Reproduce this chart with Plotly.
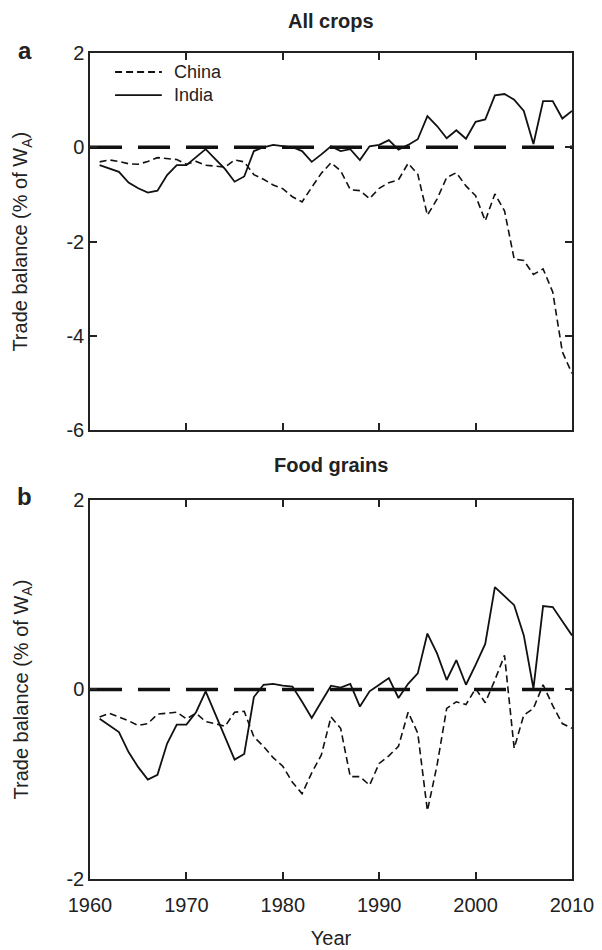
import plotly.graph_objects as go
from plotly.subplots import make_subplots

years = list(range(1961, 2011))

china_all = [-0.31, -0.27, -0.30, -0.35, -0.36, -0.30, -0.22, -0.24, -0.26, -0.36,
             -0.30, -0.38, -0.40, -0.42, -0.27, -0.31, -0.58, -0.68, -0.80, -0.88,
             -1.05, -1.16, -0.85, -0.55, -0.33, -0.50, -0.90, -0.92, -1.09, -0.87,
             -0.75, -0.69, -0.34, -0.57, -1.44, -1.10, -0.64, -0.54, -0.82, -1.03,
             -1.56, -0.99, -1.35, -2.37, -2.40, -2.70, -2.58, -3.07, -4.34, -4.80]
india_all = [-0.38, -0.45, -0.52, -0.75, -0.87, -0.96, -0.92, -0.59, -0.38, -0.38,
             -0.22, -0.04, -0.25, -0.46, -0.73, -0.62, -0.08, 0.00, 0.05, 0.02,
             0.00, -0.08, -0.31, -0.15, 0.02, -0.08, -0.04, -0.27, 0.02, 0.05,
             0.15, -0.05, 0.05, 0.17, 0.66, 0.45, 0.19, 0.36, 0.18, 0.54,
             0.59, 1.10, 1.13, 1.01, 0.77, 0.07, 0.98, 0.98, 0.61, 0.77]

china_food = [-0.29, -0.25, -0.29, -0.33, -0.38, -0.36, -0.26, -0.25, -0.24, -0.31,
              -0.25, -0.34, -0.36, -0.39, -0.24, -0.23, -0.50, -0.60, -0.72, -0.81,
              -0.98, -1.10, -0.88, -0.69, -0.29, -0.41, -0.92, -0.92, -1.01, -0.78,
              -0.70, -0.60, -0.24, -0.46, -1.28, -0.80, -0.20, -0.13, -0.16, 0.01,
              -0.14, 0.10, 0.36, -0.62, -0.27, -0.20, 0.05, -0.17, -0.36, -0.41]
india_food = [-0.31, -0.38, -0.45, -0.66, -0.82, -0.95, -0.90, -0.57, -0.37, -0.37,
              -0.24, -0.02, -0.26, -0.50, -0.74, -0.68, -0.08, 0.05, 0.06, 0.04,
              0.03, -0.13, -0.30, -0.13, 0.04, 0.02, 0.06, -0.18, -0.02, 0.05,
              0.12, -0.09, 0.06, 0.17, 0.59, 0.38, 0.10, 0.31, 0.05, 0.26,
              0.48, 1.08, 0.99, 0.89, 0.57, 0.01, 0.88, 0.87, 0.72, 0.57]

zero_x = [1960, 2010]
zero_y = [0, 0]

x_ticks = [1960, 1970, 1980, 1990, 2000, 2010]
y_ticks_top = [-6, -4, -2, 0, 2]
y_ticks_bot = [-2, 0, 2]

series_names = ["China", "India"]

FONT = "Liberation Sans, Arial, sans-serif"
TXT = "#222"
CHINA_DASH = "7px,4px"

fig = make_subplots(rows=2, cols=1, vertical_spacing=0.0846, shared_xaxes=False)

for row, (cv, iv) in enumerate([(china_all, india_all), (china_food, india_food)], start=1):
    fig.add_trace(go.Scatter(x=zero_x, y=zero_y, mode="lines",
                             line=dict(color="#111", width=3.5, dash="32px,16px"),
                             showlegend=False, hoverinfo="skip"), row=row, col=1)
    fig.add_trace(go.Scatter(x=years, y=cv, mode="lines", name=series_names[0],
                             line=dict(color="#111", width=1.6, dash=CHINA_DASH),
                             showlegend=False), row=row, col=1)
    fig.add_trace(go.Scatter(x=years, y=iv, mode="lines", name=series_names[1],
                             line=dict(color="#111", width=1.8),
                             showlegend=False), row=row, col=1)

axis_common = dict(showline=True, linecolor="#222", linewidth=1.5, mirror="ticks",
                   ticks="inside", ticklen=7, tickwidth=1.5, tickcolor="#222",
                   showgrid=False, zeroline=False,
                   tickfont=dict(family=FONT, size=20, color=TXT))

fig.update_xaxes(range=[1960, 2010], tickvals=x_ticks, **axis_common)
fig.update_xaxes(showticklabels=False, row=1, col=1)
fig.update_xaxes(ticklabelstandoff=7,
                 title=dict(text="Year", font=dict(family=FONT, size=20, color=TXT), standoff=16),
                 row=2, col=1)
fig.update_yaxes(range=[-6, 2], tickvals=y_ticks_top, ticktext=[str(v) for v in y_ticks_top],
                 row=1, col=1, **axis_common)
fig.update_yaxes(range=[-2, 2], tickvals=y_ticks_bot, ticktext=[str(v) for v in y_ticks_bot],
                 row=2, col=1, **axis_common)

ytitle = "Trade balance (% of W<sub>A</sub>)"
annotations = [
    dict(text="<b>All crops</b>", x=0.5, y=1.0, xref="paper", yref="paper",
         xanchor="center", yanchor="bottom", yshift=19, showarrow=False,
         font=dict(family=FONT, size=20, color=TXT)),
    dict(text="<b>Food grains</b>", x=0.5, y=0.4589, xref="paper", yref="paper",
         xanchor="center", yanchor="bottom", yshift=22, showarrow=False,
         font=dict(family=FONT, size=20, color=TXT)),
    dict(text="<b>a</b>", x=-0.135, y=1.0, xref="paper", yref="paper",
         xanchor="center", yanchor="middle", yshift=3, showarrow=False,
         font=dict(family=FONT, size=24, color=TXT)),
    dict(text="<b>b</b>", x=-0.135, y=0.4589, xref="paper", yref="paper",
         xanchor="center", yanchor="middle", yshift=3, showarrow=False,
         font=dict(family=FONT, size=24, color=TXT)),
    dict(text=ytitle, x=-0.141, y=0.7717, xref="paper", yref="paper",
         xanchor="center", yanchor="middle", textangle=-90, showarrow=False,
         font=dict(family=FONT, size=20, color=TXT)),
    dict(text=ytitle, x=-0.141, y=0.2295, xref="paper", yref="paper",
         xanchor="center", yanchor="middle", textangle=-90, showarrow=False,
         font=dict(family=FONT, size=20, color=TXT)),
]

# legend (drawn manually to match the long sample lines)
leg_x0, leg_x1, leg_tx = 0.052, 0.149, 0.170
leg_rows = [0.977, 0.949]
shapes = []
for name, ly, dash in zip(series_names, leg_rows, [CHINA_DASH, "solid"]):
    shapes.append(dict(type="line", xref="paper", yref="paper",
                       x0=leg_x0, x1=leg_x1, y0=ly, y1=ly,
                       line=dict(color="#111", width=1.8, dash=dash)))
    annotations.append(dict(text=name, x=leg_tx, y=ly, xref="paper", yref="paper",
                            xanchor="left", yanchor="middle", showarrow=False,
                            font=dict(family=FONT, size=18, color=TXT)))

fig.update_layout(
    width=602, height=950,
    margin=dict(l=82, r=38, t=45, b=77),
    paper_bgcolor="white", plot_bgcolor="white",
    annotations=annotations,
    shapes=shapes,
    showlegend=False,
    font=dict(family=FONT),
)
fig.update_yaxes(domain=[0.5435, 1.0], row=1, col=1)
fig.update_yaxes(domain=[0.0, 0.4589], row=2, col=1)

fig.write_html("out.html")
